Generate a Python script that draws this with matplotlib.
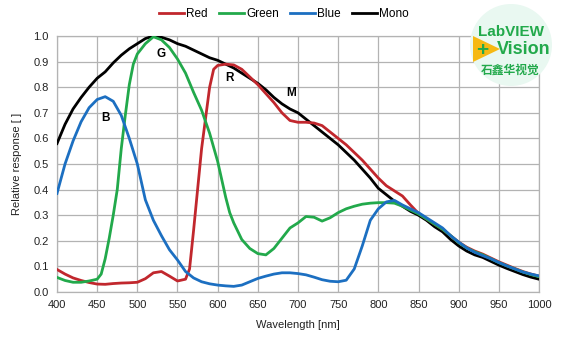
import matplotlib
matplotlib.use("Agg")
import matplotlib.pyplot as plt
from matplotlib.patches import Ellipse, Polygon

plt.rcParams['font.family'] = ['Liberation Sans', 'DejaVu Sans']

# Spectral response curves (wavelength in nm, relative response)
mono_wl = [400, 410, 420, 430, 440, 450, 460, 470, 480, 490, 500, 510, 520, 530, 540,
           550, 560, 570, 580, 590, 600, 610, 620, 630, 640, 650, 660, 670, 680, 690,
           700, 710, 720, 730, 740, 750, 760, 770, 780, 790, 800, 810, 820, 830, 840,
           850, 860, 870, 880, 890, 900, 910, 920, 930, 940, 950, 960, 970, 980, 990, 1000]
mono_val = [0.58, 0.655, 0.715, 0.76, 0.80, 0.835, 0.86, 0.895, 0.925, 0.95, 0.97, 0.99, 1.00, 0.995, 0.985,
            0.97, 0.96, 0.945, 0.93, 0.915, 0.905, 0.89, 0.875, 0.855, 0.835, 0.815, 0.79, 0.76, 0.735, 0.715,
            0.70, 0.675, 0.65, 0.625, 0.60, 0.575, 0.545, 0.515, 0.48, 0.445, 0.405, 0.38, 0.355, 0.335, 0.315,
            0.30, 0.28, 0.255, 0.235, 0.205, 0.18, 0.16, 0.145, 0.135, 0.12, 0.105, 0.092, 0.08, 0.068, 0.058, 0.05]

red_wl = [400, 410, 420, 430, 440, 450, 460, 470, 480, 490, 500, 510, 520, 530, 540,
          550, 560, 565, 570, 575, 580, 585, 590, 595, 600, 610, 620, 630, 640, 650, 660,
          670, 680, 690, 700, 710, 720, 730, 740, 750, 760, 770, 780, 790, 800, 810, 820,
          830, 840, 850, 860, 870, 880, 890, 900, 910, 920, 930, 940, 950, 960, 970, 980, 990, 1000]
red_val = [0.088, 0.07, 0.055, 0.045, 0.037, 0.031, 0.03, 0.033, 0.035, 0.036, 0.038, 0.052, 0.075, 0.08, 0.062,
           0.043, 0.05, 0.09, 0.24, 0.40, 0.56, 0.68, 0.80, 0.87, 0.885, 0.89, 0.887, 0.87, 0.84, 0.81, 0.775,
           0.74, 0.70, 0.67, 0.663, 0.663, 0.66, 0.65, 0.625, 0.60, 0.575, 0.545, 0.515, 0.48, 0.445, 0.415, 0.395,
           0.375, 0.34, 0.307, 0.285, 0.265, 0.245, 0.22, 0.195, 0.175, 0.16, 0.148, 0.133, 0.118, 0.105, 0.092, 0.08, 0.07, 0.062]

green_wl = [400, 410, 420, 430, 440, 450, 455, 460, 465, 470, 475, 480, 485, 490, 495, 500,
            510, 520, 530, 540, 550, 560, 570, 580, 590, 600, 605, 610, 615, 620, 630, 640, 650,
            660, 670, 680, 690, 700, 710, 720, 730, 740, 750, 760, 770, 780, 790, 800, 810, 820,
            830, 840, 850, 860, 870, 880, 890, 900, 910, 920, 930, 940, 950, 960, 970, 980, 990, 1000]
green_val = [0.057, 0.045, 0.038, 0.038, 0.043, 0.05, 0.07, 0.13, 0.21, 0.30, 0.40, 0.56, 0.69, 0.81, 0.89, 0.93,
             0.97, 0.997, 0.985, 0.955, 0.91, 0.855, 0.78, 0.71, 0.62, 0.51, 0.44, 0.37, 0.31, 0.27, 0.205, 0.17, 0.15,
             0.145, 0.17, 0.21, 0.25, 0.27, 0.295, 0.292, 0.277, 0.29, 0.31, 0.325, 0.335, 0.343, 0.347, 0.349, 0.349, 0.347,
             0.335, 0.32, 0.305, 0.285, 0.265, 0.245, 0.22, 0.193, 0.172, 0.157, 0.145, 0.13, 0.115, 0.102, 0.09, 0.078, 0.068, 0.06]

blue_wl = [400, 410, 420, 430, 440, 450, 460, 470, 480, 490, 500, 510, 520, 530, 540,
           550, 560, 570, 580, 590, 600, 610, 620, 630, 640, 650, 660, 670, 680, 690,
           700, 710, 720, 730, 740, 750, 760, 770, 780, 790, 800, 810, 820, 830, 840,
           850, 860, 870, 880, 890, 900, 910, 920, 930, 940, 950, 960, 970, 980, 990, 1000]
blue_val = [0.385, 0.50, 0.59, 0.665, 0.72, 0.752, 0.763, 0.745, 0.69, 0.60, 0.50, 0.36, 0.28, 0.22, 0.165,
            0.125, 0.08, 0.055, 0.04, 0.032, 0.027, 0.024, 0.022, 0.027, 0.04, 0.053, 0.062, 0.07, 0.075, 0.075,
            0.072, 0.067, 0.058, 0.048, 0.042, 0.04, 0.046, 0.09, 0.18, 0.28, 0.325, 0.352, 0.358, 0.34, 0.325,
            0.31, 0.29, 0.27, 0.25, 0.22, 0.195, 0.172, 0.155, 0.142, 0.13, 0.115, 0.102, 0.09, 0.078, 0.07, 0.063]

x_ticks = [400, 450, 500, 550, 600, 650, 700, 750, 800, 850, 900, 950, 1000]
y_ticks = [0.0, 0.1, 0.2, 0.3, 0.4, 0.5, 0.6, 0.7, 0.8, 0.9, 1.0]

# Curve tags placed next to each response
tags = ["B", "G", "R", "M"]
tag_x = [460, 529, 615, 691]
tag_y = [0.68, 0.93, 0.836, 0.777]

RED = "#c1272d"
GREEN = "#22a94b"
BLUE = "#1c6fc1"
BLACK = "#000000"

W, H = 565, 337
fig = plt.figure(figsize=(W / 100, H / 100), dpi=100)
ax = fig.add_axes([57 / W, 1 - 292 / H, (539 - 57) / W, (292 - 36) / H])

lw = 2.0
ax.plot(mono_wl, mono_val, color=BLACK, lw=lw, label="Mono", zorder=3)
ax.plot(red_wl, red_val, color=RED, lw=lw, label="Red", zorder=4)
ax.plot(green_wl, green_val, color=GREEN, lw=lw, label="Green", zorder=5)
ax.plot(blue_wl, blue_val, color=BLUE, lw=lw, label="Blue", zorder=6)

for t, tx, ty in zip(tags, tag_x, tag_y):
    ax.text(tx, ty, t, fontsize=8.5, fontweight="bold", ha="center", va="center", zorder=7)

ax.set_xlim(400, 1000)
ax.set_ylim(0, 1.0)
ax.set_xticks(x_ticks)
ax.set_yticks(y_ticks)
ax.set_yticklabels([f"{v:.1f}" for v in y_ticks])
ax.grid(True, color="#b3b3b3", lw=0.9)
ax.set_axisbelow(True)
ax.tick_params(length=0, labelsize=8, pad=6, colors="#222222")
for s in ax.spines.values():
    s.set_color("#b3b3b3")
    s.set_linewidth(0.9)

ax.set_xlabel("Wavelength [nm]", fontsize=8, labelpad=7, color="#222222")
ax.set_ylabel("Relative response [ ]", fontsize=8, labelpad=8, color="#222222")

handles, labels = ax.get_legend_handles_labels()
order = [1, 2, 3, 0]
fig.legend([handles[i] for i in order], [labels[i] for i in order],
           loc="center", bbox_to_anchor=(284 / W, 1 - 14 / H), ncol=4, frameon=False,
           fontsize=8.5, handlelength=2.1, columnspacing=0.95, handletextpad=0.2)

# Badge in the top right corner
badge = Ellipse((511 / W, 1 - 45 / H), 82 / W, 82 / H, transform=fig.transFigure,
                facecolor="#e9f8f1", edgecolor="none", zorder=10)
fig.patches.append(badge)
tri = Polygon([(473 / W, 1 - 36 / H), (473 / W, 1 - 62 / H), (500 / W, 1 - 49 / H)],
              closed=True, transform=fig.transFigure, facecolor="#f6b912", edgecolor="none", zorder=11)
fig.patches.append(tri)
fig.text(511 / W, 1 - 32 / H, "LabVIEW", color=GREEN, fontsize=11, fontweight="bold",
         ha="center", va="center", zorder=12)
fig.text(482 / W, 1 - 50 / H, "+", color=GREEN, fontsize=15, fontweight="bold",
         ha="center", va="center", zorder=12)
fig.text(524 / W, 1 - 50 / H, "Vision", color=GREEN, fontsize=13, fontweight="bold",
         ha="center", va="center", zorder=12)
fig.text(510 / W, 1 - 70 / H, "石鑫华视觉", color=GREEN, fontsize=8.5, fontweight="bold",
         ha="center", va="center", zorder=12, family=["Noto Sans CJK SC", "DejaVu Sans"])

fig.savefig("out.png", dpi=100)
